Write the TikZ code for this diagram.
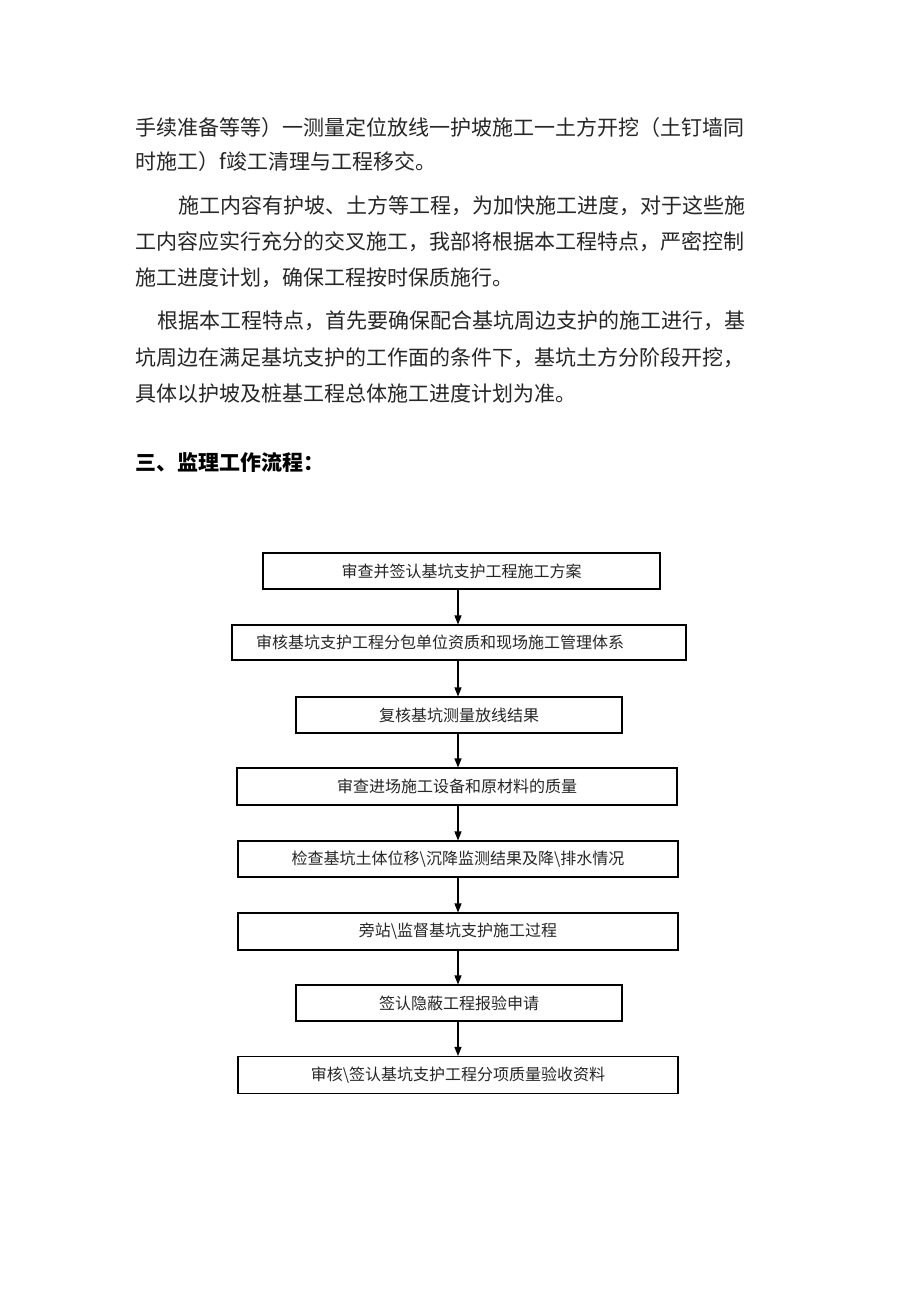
\documentclass[tikz,border=0pt]{standalone}
\usepackage{fontspec}
\setmainfont{Noto Sans CJK SC}
\usetikzlibrary{arrows.meta}
\XeTeXlinebreaklocale "zh"
\XeTeXlinebreakskip=0pt plus 3pt
\tikzset{
  body/.style={anchor=west, inner sep=0pt, font=\fontsize{21}{25}\selectfont, text=black!85},
  just/.style={body, align=justify},
  stepbox/.style={draw=black, line width=1.1pt, inner sep=0pt, font=\fontsize{16}{18}\selectfont, text=black!85},
  arr/.style={draw=black, line width=1.1pt, -{Triangle[length=9pt,width=7pt]}}
}
\begin{document}
\begin{tikzpicture}[x=1pt,y=-1pt]
\useasboundingbox[fill=white] (0,0) rectangle (920,1302);
% body text
\node[just, text width=623pt] (l1) at (135,128) {\noindent\parfillskip=0pt 手续准备等等）一测量定位放线一护坡施工一土方开挖（土钉墙同};
\node[body] (l2) at (135,162) {时施工）f竣工清理与工程移交。};
\node[just, text width=580pt] (l3) at (178,206) {\noindent\parfillskip=0pt 施工内容有护坡、土方等工程，为加快施工进度，对于这些施};
\node[just, text width=623pt] (l4) at (135,242) {\noindent\parfillskip=0pt 工内容应实行充分的交叉施工，我部将根据本工程特点，严密控制};
\node[body] (l5) at (135,278) {施工进度计划，确保工程按时保质施行。};
\node[just, text width=601pt] (l6) at (157,321) {\noindent\parfillskip=0pt 根据本工程特点，首先要确保配合基坑周边支护的施工进行，基};
\node[just, text width=623pt] (l7) at (135,358) {\noindent\parfillskip=0pt 坑周边在满足基坑支护的工作面的条件下，基坑土方分阶段开挖，};
\node[body] (l8) at (135,394) {具体以护坡及桩基工程总体施工进度计划为准。};
\node[body, font=\fontsize{21}{25}\selectfont\bfseries, text=black] (h) at (135,462) {三、监理工作流程：};
% flow boxes
\coordinate (ax) at (458,0);
\node[stepbox, minimum width=397pt, minimum height=36pt] (b1) at (461.5,571) {审查并签认基坑支护工程施工方案};
\node[stepbox, minimum width=454pt, minimum height=35pt] (b2) at (459,642.5) {};
\node[inner sep=0pt, font=\fontsize{16}{18}\selectfont, text=black!85] (t2) at (440,642.5) {审核基坑支护工程分包单位资质和现场施工管理体系};
\node[stepbox, minimum width=326pt, minimum height=36pt] (b3) at (459,715) {复核基坑测量放线结果};
\node[stepbox, minimum width=440pt, minimum height=37pt] (b4) at (457,786.5) {审查进场施工设备和原材料的质量};
\node[stepbox, minimum width=440pt, minimum height=36pt] (b5) at (458,859) {检查基坑土体位移\textbackslash 沉降监测结果及降\textbackslash 排水情况};
\node[stepbox, minimum width=440pt, minimum height=37pt] (b6) at (458,931.5) {旁站\textbackslash 监督基坑支护施工过程};
\node[stepbox, minimum width=326pt, minimum height=36pt] (b7) at (459,1003) {签认隐蔽工程报验申请};
\node[stepbox, minimum width=440pt, minimum height=37pt] (b8) at (458,1075) {审核\textbackslash 签认基坑支护工程分项质量验收资料};
% arrows
\draw[arr] (b1.south -| ax) -- (b2.north -| ax);
\draw[arr] (b2.south -| ax) -- (b3.north -| ax);
\draw[arr] (b3.south -| ax) -- (b4.north -| ax);
\draw[arr] (b4.south -| ax) -- (b5.north -| ax);
\draw[arr] (b5.south -| ax) -- (b6.north -| ax);
\draw[arr] (b6.south -| ax) -- (b7.north -| ax);
\draw[arr] (b7.south -| ax) -- (b8.north -| ax);
\end{tikzpicture}
\end{document}
